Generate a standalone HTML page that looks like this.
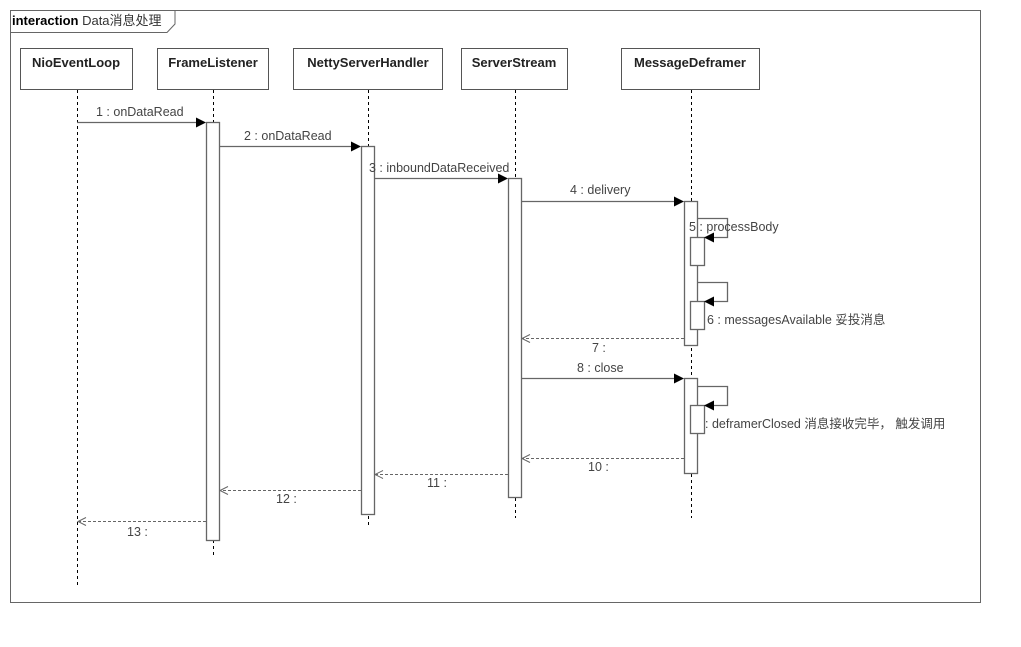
<!DOCTYPE html>
<html><head><meta charset="utf-8"><style>body{margin:0;background:#fff}</style></head><body>
<svg width="1021" height="642" viewBox="0 0 1021 642" xmlns="http://www.w3.org/2000/svg" font-family="Liberation Sans, Noto Sans CJK SC, sans-serif" font-size="12.5" fill="#333">
<rect x="0" y="0" width="1021" height="642" fill="#fff"/>
<rect x="10.5" y="10.5" width="970" height="592" fill="none" stroke="#666"/>
<path d="M10.5 32.5 H167 L175 24 V10.5" fill="none" stroke="#666"/>
<text x="12" y="25" font-size="13"><tspan font-weight="bold" fill="#000">interaction</tspan> Data消息处理</text>
<g stroke="#555" fill="#fff">
<rect x="20.5" y="48.5" width="112" height="41"/>
<rect x="157.5" y="48.5" width="111" height="41"/>
<rect x="293.5" y="48.5" width="149" height="41"/>
<rect x="461.5" y="48.5" width="106" height="41"/>
<rect x="621.5" y="48.5" width="138" height="41"/>
</g>
<g font-weight="bold" fill="#222" text-anchor="middle" font-size="13">
<text x="76" y="67">NioEventLoop</text><text x="213" y="67">FrameListener</text><text x="368" y="67">NettyServerHandler</text><text x="514" y="67">ServerStream</text><text x="690" y="67">MessageDeframer</text>
</g>
<g stroke="#000" stroke-dasharray="3,3">
<line x1="77.5" y1="90" x2="77.5" y2="585"/>
<line x1="213.5" y1="90" x2="213.5" y2="556"/>
<line x1="368.5" y1="90" x2="368.5" y2="526"/>
<line x1="515.5" y1="90" x2="515.5" y2="518"/>
<line x1="691.5" y1="90" x2="691.5" y2="518"/>
</g>
<g stroke="#666" fill="#fff" stroke-width="1.3">
<rect x="206.5" y="122.5" width="13" height="418"/>
<rect x="361.5" y="146.5" width="13" height="368"/>
<rect x="508.5" y="178.5" width="13" height="319"/>
<rect x="684.5" y="201.5" width="13" height="144"/>
<rect x="684.5" y="378.5" width="13" height="95"/>
<rect x="690.5" y="237.5" width="14" height="28"/>
<rect x="690.5" y="301.5" width="14" height="28"/>
<rect x="690.5" y="405.5" width="14" height="28"/>
<path d="M697 218.5H727.5V237.5H705M697 282.5H727.5V301.5H705M697 386.5H727.5V405.5H705" fill="none"/>
</g>
<g stroke="#666" stroke-width="1.3">
<line x1="77" y1="122.5" x2="200" y2="122.5"/>
<line x1="219" y1="146.5" x2="355" y2="146.5"/>
<line x1="374" y1="178.5" x2="502" y2="178.5"/>
<line x1="521" y1="201.5" x2="678" y2="201.5"/>
<line x1="521" y1="378.5" x2="678" y2="378.5"/>
</g>
<g fill="#000">
<path d="M196 117.5L206 122.5L196 127.5Z"/><path d="M351 141.5L361 146.5L351 151.5Z"/><path d="M498 173.5L508 178.5L498 183.5Z"/><path d="M674 196.5L684 201.5L674 206.5Z"/><path d="M674 373.5L684 378.5L674 383.5Z"/>
<path d="M714 232.5L704 237.5L714 242.5Z"/><path d="M714 296.5L704 301.5L714 306.5Z"/><path d="M714 400.5L704 405.5L714 410.5Z"/>
</g>
<g stroke="#666" stroke-dasharray="3,2" fill="none">
<line x1="684" y1="338.5" x2="522" y2="338.5"/>
<line x1="684" y1="458.5" x2="522" y2="458.5"/>
<line x1="508" y1="474.5" x2="375" y2="474.5"/>
<line x1="361" y1="490.5" x2="220" y2="490.5"/>
<line x1="206" y1="521.5" x2="78" y2="521.5"/>
</g>
<g stroke="#666" fill="none">
<path d="M530 334.5L522 338.5L530 342.5M530 454.5L522 458.5L530 462.5M383 470.5L375 474.5L383 478.5M228 486.5L220 490.5L228 494.5M86 517.5L78 521.5L86 525.5"/>
</g>
<g fill="#444">
<text x="96" y="116">1 : onDataRead</text>
<text x="244" y="140">2 : onDataRead</text>
<text x="369" y="172">3 : inboundDataReceived</text>
<text x="570" y="194">4 : delivery</text>
<text x="689" y="231">5 : processBody</text>
<text x="707" y="324">6 : messagesAvailable 妥投消息</text>
<text x="592" y="352">7 :</text>
<text x="577" y="372">8 : close</text>
<text x="705" y="428">: deframerClosed 消息接收完毕， 触发调用</text>
<text x="588" y="471">10 :</text>
<text x="427" y="487">11 :</text>
<text x="276" y="503">12 :</text>
<text x="127" y="536">13 :</text>
</g>
</svg>
</body></html>
